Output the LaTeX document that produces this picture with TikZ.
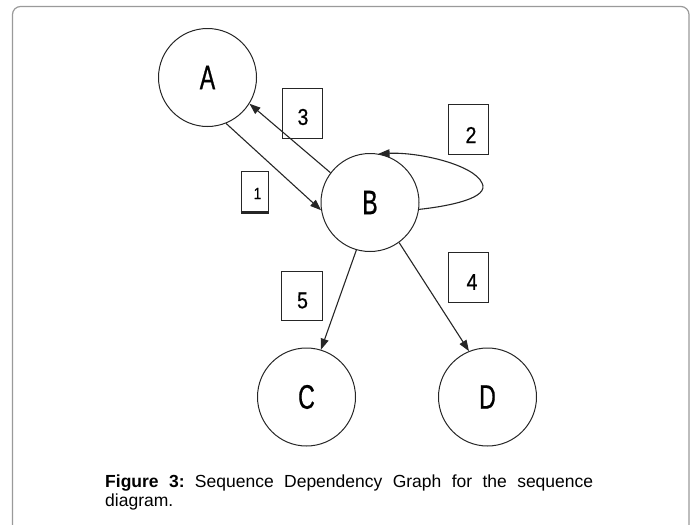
\documentclass[tikz,border=0pt]{standalone}
\usepackage{fontspec}
\setmainfont{Liberation Sans}
\newfontfamily\statefont[FakeStretch=0.68,FakeBold=0.6]{Liberation Sans}
\newfontfamily\nodefont[FakeStretch=0.85,FakeBold=0.5]{Liberation Sans}
\usetikzlibrary{arrows.meta}
\definecolor{ink}{HTML}{262626}
\definecolor{framegray}{HTML}{9A9A9A}
\tikzset{
  state/.style={circle, draw=ink, line width=1pt, minimum size=98pt, inner sep=0pt,
    font=\statefont\fontsize{34}{34}\selectfont, text=black},
  tag/.style={rectangle, draw=ink, line width=1pt, inner sep=0pt,
    minimum width=40pt, minimum height=50pt},
  tagtext/.style={font=\nodefont\fontsize{23}{23}\selectfont, inner sep=0pt},
  dep/.style={draw=ink, line width=1.1pt, -{Triangle[length=11pt,width=8pt]}},
}
\begin{document}
\frenchspacing
\begin{tikzpicture}[x=1pt,y=-1pt]
  \useasboundingbox (0,0) rectangle (697,525);
  % outer frame, open at the bottom
  \draw[framegray, line width=1.2pt, rounded corners=8pt]
    (12.5,530) -- (12.5,6.5) -- (689,6.5) -- (689,530);

  % states
  \node[state] (A) at (207.5,77.5) {A};
  \node[state] (B) at (370,202.5) {B};
  \node[state] (C) at (306.5,397) {C};
  \node[state] (D) at (487.5,397) {D};

  % dependencies
  \draw[dep] (A.-68) -- (B.189);
  \draw[dep] (B.143) -- (A.-32);
  \draw[dep] (B.-8) .. controls (450,206) and (490,198) .. (482,183)
                    .. controls (474,165) and (420,152) .. (B.80);
  \draw[dep] (B.-106) -- (C.73);
  \draw[dep] (B.-54) -- (D.112);

  % sequence numbers
  \node[tag] (t3) at (302,113) {};
  \node[tagtext] at ([shift={(1,4)}]t3.center) {3};
  \node[tag] (t2) at (468,129) {};
  \node[tagtext] at ([shift={(3,6)}]t2.center) {2};
  \node[tag, minimum width=27pt, minimum height=41pt] (t1) at (254.5,191.5) {};
  \draw[ink, line width=2.2pt] (t1.south west) -- (t1.south east);
  \node[font=\nodefont\fontsize{16}{16}\selectfont, inner sep=0pt]
    at ([shift={(3,2)}]t1.center) {1};
  \node[tag, minimum width=41pt, minimum height=49pt] (t5) at (301.5,295.5) {};
  \node[tagtext] at ([shift={(1,5)}]t5.center) {5};
  \node[tag] (t4) at (468,277) {};
  \node[tagtext] at ([shift={(4,5)}]t4.center) {4};

  % caption
  \node[anchor=base west, inner sep=0pt, font=\fontsize{17.5}{19.5}\selectfont] (cap) at (105,487)
    {\parbox[t]{488pt}{\textbf{Figure 3:} Sequence Dependency Graph for the sequence\linebreak diagram.}};
\end{tikzpicture}
\end{document}
